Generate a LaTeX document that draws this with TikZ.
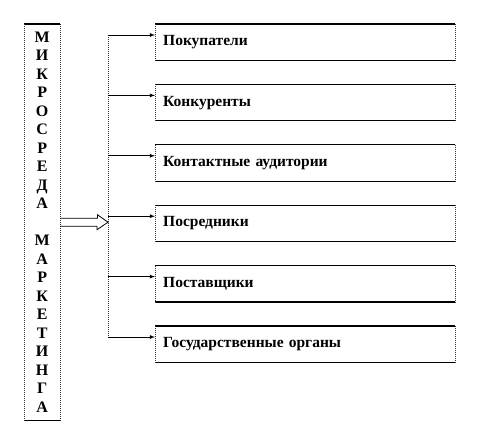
\documentclass[tikz,border=0pt]{standalone}
\usepackage{fontspec}
\setmainfont{Liberation Serif}
\usetikzlibrary{arrows,shapes,calc,positioning}

\tikzset{
  factor/.style={minimum width=300pt, minimum height=36pt, text width=284pt, inner xsep=8pt, inner ysep=0pt, align=left, font=\bfseries\fontsize{15.5}{18}\selectfont},
  hline/.style={line width=1.1pt},
  vline/.style={line width=1pt, densely dotted, color=black!80},
  link/.style={-latex, line width=0.8pt}
}

\begin{document}
\begin{tikzpicture}[x=1pt,y=-1pt, node distance=24pt]
\useasboundingbox (0,0) rectangle (504,432);
\node[minimum width=36pt, minimum height=396pt, inner sep=0pt, align=center, anchor=north west, font=\bfseries\fontsize{16}{18.5}\selectfont] (mikro) at (24,24)
  {М\\И\\К\\Р\\О\\С\\Р\\Е\\Д\\А\\[18.5pt]М\\А\\Р\\К\\Е\\Т\\И\\Н\\Г\\А};
\node[factor, anchor=north west] (b1) at (155,24) {Покупатели};
\node[factor, below=of b1] (b2) {Конкуренты};
\node[factor, below=of b2] (b3) {Контактные аудитории};
\node[factor, below=of b3] (b4) {Посредники};
\node[factor, below=of b4] (b5) {Поставщики};
\node[factor, below=of b5] (b6) {Государственные органы};
\foreach \b in {mikro,b1,b2,b3,b4,b5,b6}{
  \draw[hline] (\b.north west) -- (\b.north east) (\b.south west) -- (\b.south east);
  \draw[vline] (\b.north west) -- (\b.south west) (\b.north east) -- (\b.south east);
}
\coordinate (top) at ($(b1.north west)+(-47,11)$);
\coordinate (bottom) at ($(b6.north west)+(-47,11)$);
\draw[vline] (top) -- (bottom);
\foreach \b in {b1,b2,b3,b4,b5,b6}{
  \coordinate (in\b) at ($(\b.north west)+(0,11)$);
  \draw[link] (top |- in\b) -- (in\b);
}
\coordinate (tip) at (mikro.east -| top);
\draw[line width=0.8pt] (mikro.east) ++(0,-4) -- ++(37,0) -- ++(0,-3.5) -- (tip) -- ++(-11,7.5) -- ++(0,-3.5) -- ++(-37,0);
\end{tikzpicture}
\end{document}
